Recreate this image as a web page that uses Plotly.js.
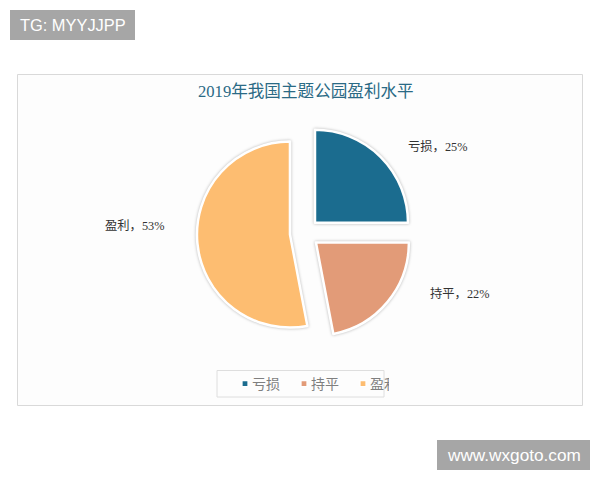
<!DOCTYPE html>
<html><head><meta charset="utf-8">
<script src="https://cdn.plot.ly/plotly-3.0.1.min.js"></script>
<style>html,body{margin:0;padding:0;background:#fff}
.pielayer{filter:drop-shadow(0 0 1.5px rgba(0,0,0,.28))}
.legend .legendpie{transform:translate(33px,0px) scale(.5)}</style></head>
<body><div id="c" style="width:600px;height:480px"></div>
<script>
const categories = ["亏损","持平","盈利"];
const shares = [25,22,53];
const sliceColors = ["#1B6C8F","#E29B78","#FDBD71"];
const labelX = [437.5,459,134];
const labelY = [147,293,226];
const W=600,H=480;
const px=x=>x/W, py=y=>1-y/H;
const cjk='"Liberation Serif","Noto Sans CJK SC",serif';
const sans='"Noto Sans CJK SC","Noto Sans",sans-serif';
const annotations = categories.map((c,i)=>({xref:'paper',yref:'paper',x:px(labelX[i]),y:py(labelY[i]),
  text:c+'，'+shares[i]+'%',showarrow:false,xanchor:'center',yanchor:'middle',
  font:{family:cjk,size:12.3,color:'#333333'}}));
annotations.push({xref:'paper',yref:'paper',x:px(306),y:py(91),text:'2019年我国主题公园盈利水平',showarrow:false,
  xanchor:'center',yanchor:'middle',font:{family:cjk,size:16.6,color:'#2A6A85'}});
annotations.push({xref:'paper',yref:'paper',x:px(72.5),y:py(25),text:'TG: MYYJJPP',showarrow:false,
  xanchor:'center',yanchor:'middle',font:{family:'"Liberation Sans",sans-serif',size:16.4,color:'#ffffff'}});
annotations.push({xref:'paper',yref:'paper',x:px(513.5),y:py(455),text:'www.wxgoto.com',showarrow:false,
  xanchor:'center',yanchor:'middle',font:{family:'"Liberation Sans",sans-serif',size:17.2,color:'#ffffff'}});
const rect=(x0,y0,x1,y1,fill,line)=>({type:'rect',xref:'paper',yref:'paper',layer:'below',
  x0:px(x0),x1:px(x1),y0:py(y0),y1:py(y1),fillcolor:fill,line:{color:line||fill,width:line?1:0}});
const cx=304.6,cy=233.2,R=93,pull=0.158,Rt=R*(1+pull);
Plotly.newPlot('c',[{type:'pie',labels:categories,values:shares,sort:false,direction:'clockwise',rotation:0,
  pull:pull,marker:{colors:sliceColors,line:{color:'#ffffff',width:2.5}},textinfo:'none',hoverinfo:'label+percent',
  domain:{x:[px(cx-Rt),px(cx+Rt)],y:[py(cy+Rt),py(cy-Rt)]}}],
 {width:W,height:H,margin:{l:0,r:0,t:0,b:0},paper_bgcolor:'#fff',annotations,
  shapes:[rect(17.5,74.5,582.5,405.5,'#FDFDFD','#D9D9D9'),rect(10,10,135,40,'#A6A6A6'),rect(437,440,590,470,'#A6A6A6'),
          rect(217,370.5,384,397,'#FDFDFD','#DEDEDE')],
  showlegend:true,
  legend:{orientation:'h',x:px(300.5),xanchor:'center',y:py(384),yanchor:'middle',bgcolor:'rgba(0,0,0,0)',
    font:{family:sans,size:14,color:'#7F7F7F'},itemwidth:30,entrywidth:14,entrywidthmode:'pixels',traceorder:'normal'}},
 {displayModeBar:false});
</script></body></html>
